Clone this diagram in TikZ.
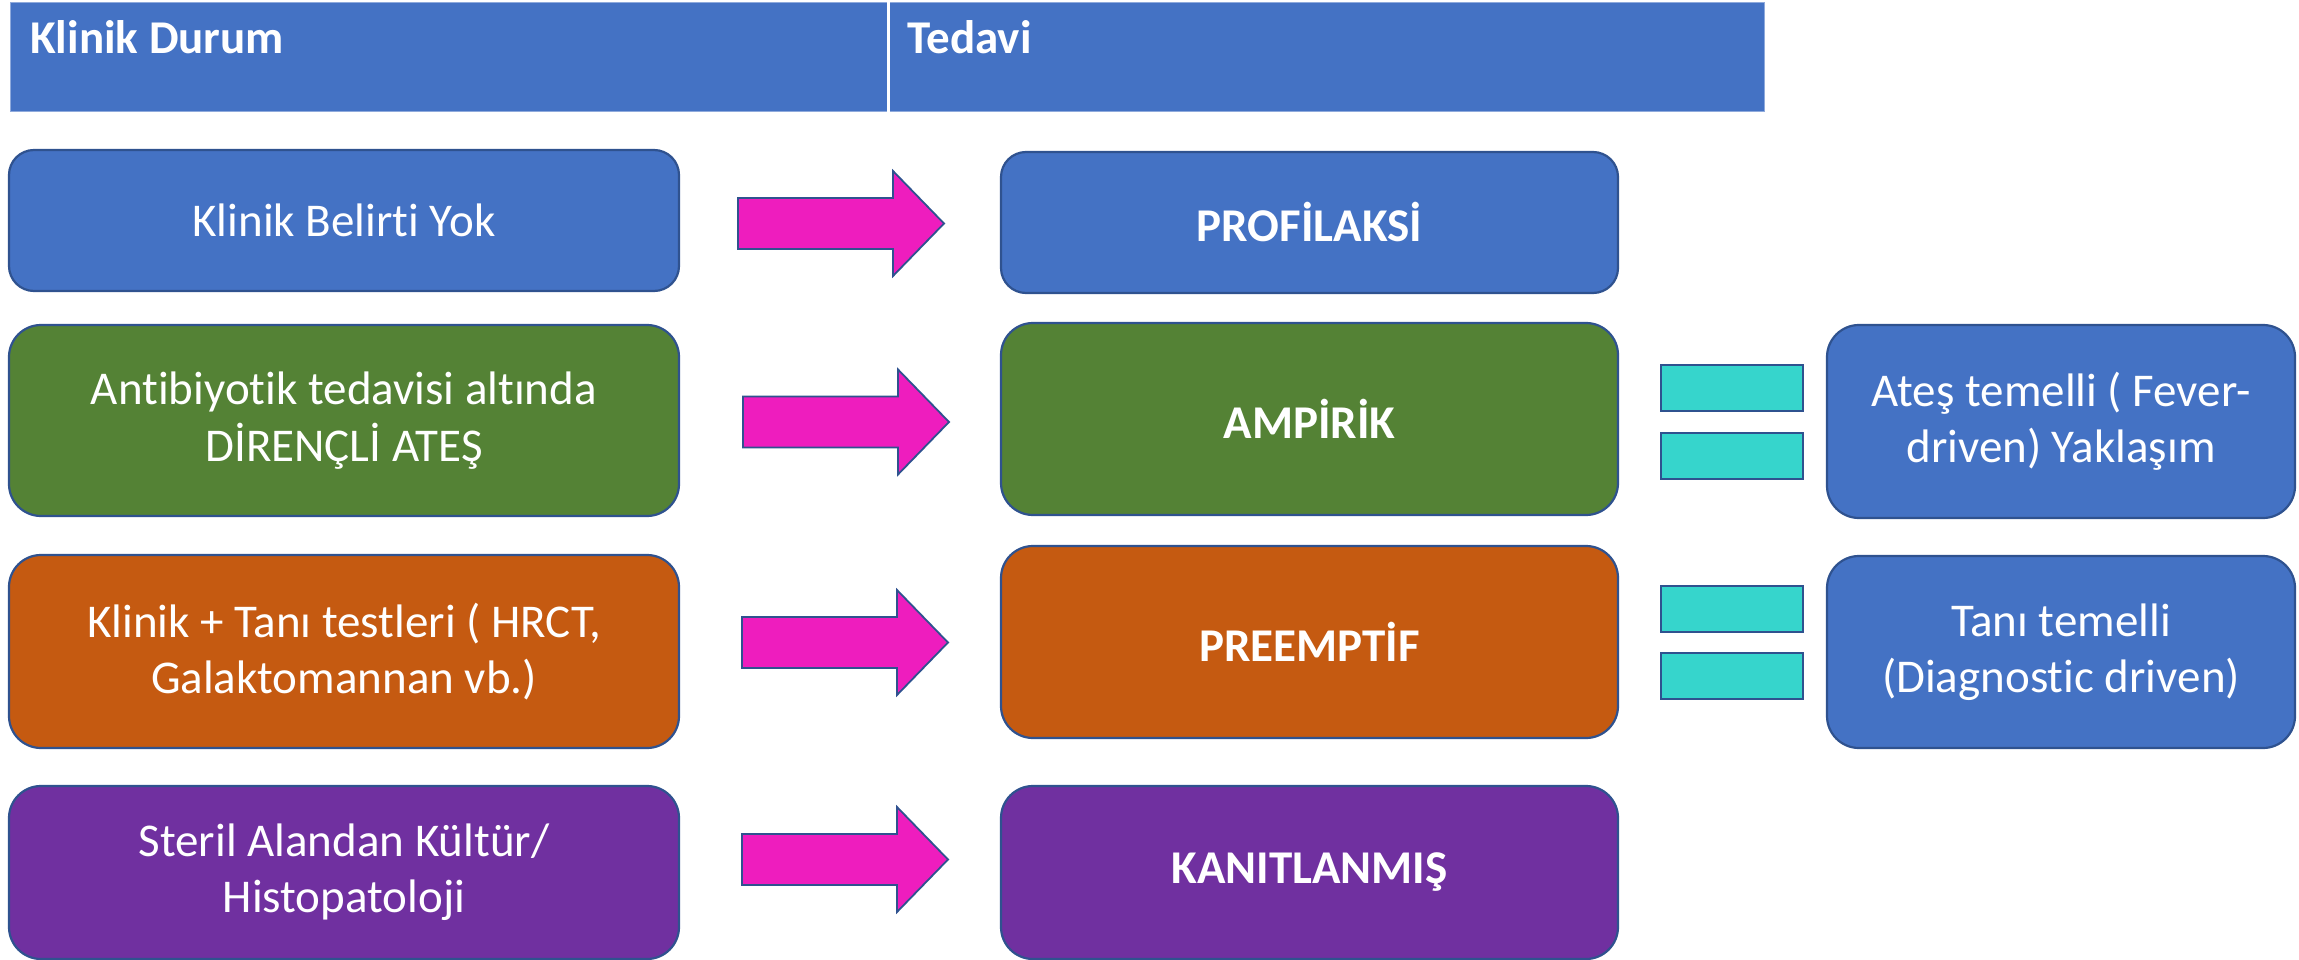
\documentclass[tikz,border=0pt]{standalone}
\usepackage{fontspec}
\setmainfont{Carlito}[Ligatures=NoCommon]
\definecolor{cblue}{HTML}{4472C4}
\definecolor{cheadedge}{HTML}{8FAADC}
\definecolor{cgreen}{HTML}{548235}
\definecolor{corange}{HTML}{C55A11}
\definecolor{cpurple}{HTML}{7030A0}
\definecolor{edgeblue}{HTML}{2F528F}
\definecolor{cmagenta}{HTML}{EE1DBE}
\definecolor{cteal}{HTML}{36D5CC}
\begin{document}
\begin{tikzpicture}[x=1pt,y=-1pt,
  txt/.style={font=\fontsize{47}{56.4}\selectfont},
  boldtxt/.style={font=\fontsize{47}{56.4}\selectfont\bfseries},
  box/.style={draw=edgeblue, line width=2.2pt, rounded corners=#1, text=white,
    align=center, inner sep=0pt, txt},
  box/.default=32,
  headcell/.style={draw=cheadedge, line width=1.2pt, fill=cblue, anchor=north west, inner sep=0pt},
  headtxt/.style={text=white, anchor=base west, inner sep=0pt, boldtxt},
  bar/.style={draw=edgeblue, line width=2pt, fill=cteal, inner sep=0pt,
    minimum width=142pt, minimum height=46pt},
  blockarrow/.pic={
    \draw[draw=edgeblue, line width=1.8pt, fill=cmagenta, line join=miter]
      (0,-25.5) -- (155,-25.5) -- (155,-52.5) -- (206,0) -- (155,52.5)
      -- (155,25.5) -- (0,25.5) -- cycle;
  }]
\useasboundingbox (0,0) rectangle (2299,960);

% header row of the table
\node[headcell, minimum width=877pt, minimum height=109pt] (h1) at (10,2) {};
\node[headcell, minimum width=876pt, minimum height=109pt] (h2) at (888,2) {};
\draw[white, line width=3pt] (h1.north east) -- (h1.south east);
\node[headtxt] (h1t) at (30,54) {Klinik Durum};
\node[headtxt] (h2t) at (907,54) {Tedavi};

% clinical situation column
\node[box=25, fill=cblue, minimum width=670pt, minimum height=141pt] (s1) at (344,220.5) {Klinik Belirti Yok};
\node[box, fill=cgreen, minimum width=670pt, minimum height=191pt] (s2) at (344,420.5)
  {Antibiyotik tedavisi altında\\DİRENÇLİ ATEŞ};
\node[box, fill=corange, minimum width=670pt, minimum height=193pt] (s3) at (344,651.5)
  {Klinik + Tanı testleri ( HRCT,\\Galaktomannan vb.)};
\node[box, fill=cpurple, minimum width=670pt, minimum height=173pt] (s4) at (344,872.5)
  {Steril Alandan Kültür/\\Histopatoloji};

% treatment column
\node[box=25, fill=cblue, minimum width=617pt, minimum height=141pt, boldtxt] (t1) at (1309.5,222.5) {PROFİLAKSİ};
\node[box, fill=cgreen, minimum width=617pt, minimum height=192pt, boldtxt] (t2) at (1309.5,419) {AMPİRİK};
\node[box, fill=corange, minimum width=617pt, minimum height=192pt, boldtxt] (t3) at (1309.5,642) {PREEMPTİF};
\node[box, fill=cpurple, minimum width=617pt, minimum height=173pt, boldtxt] (t4) at (1309.5,872.5) {KANITLANMIŞ};

% block arrows between the columns
\pic at (738,223.5) {blockarrow};
\pic at (743,422) {blockarrow};
\pic at (742,642.5) {blockarrow};
\pic at (742,859.5) {blockarrow};

% equals signs
\node[bar] (e1a) at (1732,388) {};
\node[bar] (e1b) at (1732,455.5) {};
\node[bar] (e2a) at (1732,608.5) {};
\node[bar] (e2b) at (1732,676) {};

% approach boxes
\node[box, fill=cblue, minimum width=468pt, minimum height=193pt] (r1) at (2061,421.5)
  {Ateş temelli ( Fever-\\driven) Yaklaşım};
\node[box, fill=cblue, minimum width=468pt, minimum height=192pt] (r2) at (2061,652)
  {Tanı temelli\\(Diagnostic driven)};
\end{tikzpicture}
\end{document}
